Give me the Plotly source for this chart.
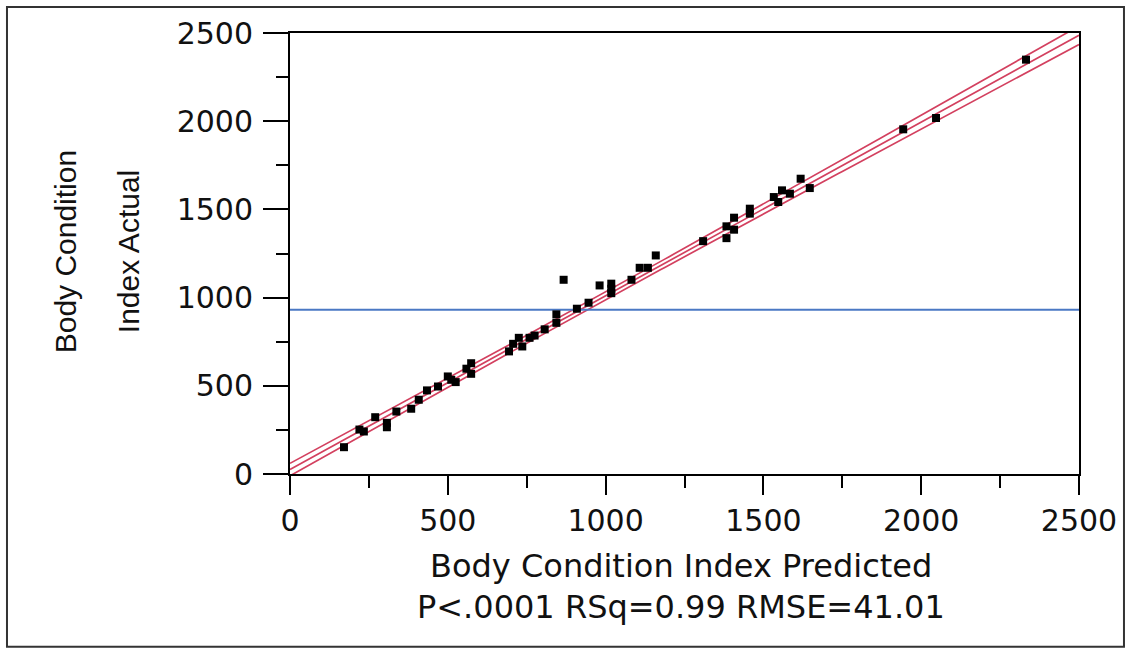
import numpy as np
import plotly.graph_objects as go

# Body condition index: model prediction vs measured value
predicted = [171, 220, 234, 270, 307, 307, 337, 384, 408, 434, 469, 500, 511, 525, 559, 574, 574,
             694, 707, 725, 736, 759, 775, 807, 844, 844, 867, 909, 946, 981, 1018, 1018, 1018,
             1082, 1108, 1134, 1159,
             1309, 1383, 1383, 1407, 1407, 1457, 1457, 1533, 1547, 1559, 1584, 1618, 1647,
             1943, 2047, 2332]
actual = [152, 252, 241, 322, 290, 265, 354, 370, 421, 474, 496, 553, 534, 521, 597, 628, 568,
          695, 738, 772, 723, 772, 785, 820, 857, 905, 1101, 937, 971, 1069, 1079, 1050, 1025,
          1101, 1169, 1169, 1239,
          1320, 1404, 1337, 1453, 1385, 1504, 1476, 1570, 1542, 1608, 1589, 1674, 1621,
          1954, 2018, 2349]

mean_actual = 931          # horizontal reference: mean of the response
fit_intercept = 25.0       # line of fit
fit_slope = 0.985
band_center = 22.0         # half-width of confidence curves at the mean
band_growth = 0.03         # widening of the curves away from the mean

tick_vals = [0, 500, 1000, 1500, 2000, 2500]
tick_text = ["0", "500", "1000", "1500", "2000", "2500"]

x_title = "Body Condition Index Predicted"
y_title_lines = ["Body Condition", "Index Actual"]
stats_text = "P<.0001 RSq=0.99 RMSE=41.01"

WIDE = "DejaVu Sans, Verdana, sans-serif"
NARROW = "Liberation Sans, Arial, sans-serif"
INK = "#111111"
RED = "#d3405f"
BLUE = "#4a78c4"

xs = np.linspace(0, 2500, 201)
center = fit_intercept + fit_slope * xs
x_mean = (mean_actual - fit_intercept) / fit_slope
half = np.sqrt(band_center ** 2 + (band_growth * (xs - x_mean)) ** 2)

fig = go.Figure()
for yline in (center + half, center, center - half):
    fig.add_trace(go.Scatter(x=xs, y=yline, mode="lines",
                             line=dict(color=RED, width=1.7), hoverinfo="skip"))
fig.add_trace(go.Scatter(x=[0, 2500], y=[mean_actual, mean_actual], mode="lines",
                         line=dict(color=BLUE, width=2), hoverinfo="skip"))
fig.add_trace(go.Scatter(x=predicted, y=actual, mode="markers",
                         marker=dict(symbol="square", size=8, color="black",
                                     line=dict(width=0))))

axis_common = dict(
    range=[0, 2500], tickvals=tick_vals, ticktext=tick_text,
    showgrid=False, zeroline=False, showline=True, linecolor="black", linewidth=2,
    mirror=True, ticks="outside", tickcolor="black", tickwidth=2,
    tickfont=dict(family=WIDE, size=30, color=INK),
    minor=dict(dtick=250, tick0=0, ticks="outside", ticklen=12, tickwidth=2,
               tickcolor="black", showgrid=False),
)


def label(text, x, y, family, size, angle=0):
    return dict(text=text, x=x, y=y, xref="paper", yref="paper",
                xanchor="center", yanchor="middle", textangle=angle,
                showarrow=False, font=dict(family=family, size=size, color=INK))


fig.update_layout(
    width=1130, height=650,
    margin=dict(l=290, r=51, t=33, b=176),
    paper_bgcolor="white", plot_bgcolor="white",
    showlegend=False,
    xaxis=dict(axis_common, ticklen=19),
    yaxis=dict(axis_common, ticklen=25, ticklabelstandoff=4),
    annotations=[
        label(y_title_lines[0], -0.285, 0.503, NARROW, 30, -90),
        label(y_title_lines[1], -0.2053, 0.503, NARROW, 30, -90),
        label(x_title, 0.4956, -0.2086, WIDE, 32),
        label(stats_text, 0.4956, -0.3016, WIDE, 32),
    ],
    shapes=[
        dict(type="rect", xref="paper", yref="paper",
             x0=-0.3587, x1=1.057, y0=-0.392, y1=1.059,
             line=dict(color="#333333", width=2), fillcolor="rgba(0,0,0,0)"),
    ],
)

fig.write_html("out.html")
